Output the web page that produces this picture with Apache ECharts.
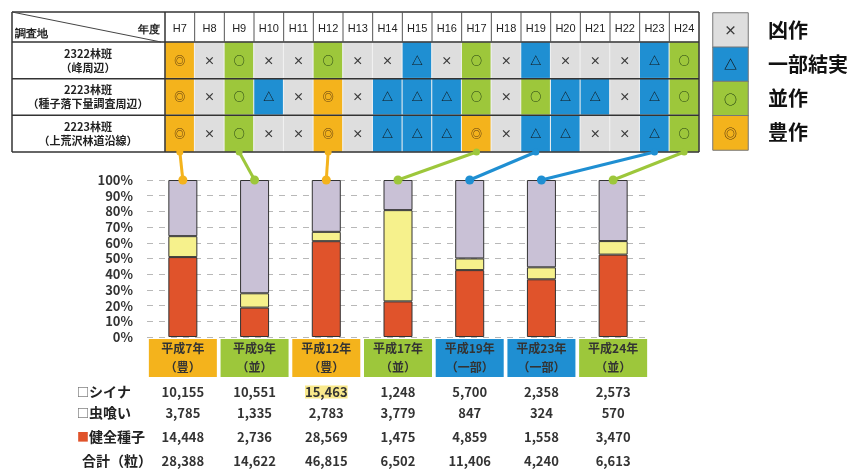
<!DOCTYPE html>
<html><head><meta charset="utf-8">
<script src="https://cdn.jsdelivr.net/npm/echarts@6/dist/echarts.min.js"></script>
<style>html,body{margin:0;padding:0;background:#fff}#c{width:860px;height:471px}</style>
</head><body><div id="c"></div>
<script>
// ---------- data ----------
const years = ['H7','H8','H9','H10','H11','H12','H13','H14','H15','H16','H17','H18','H19','H20','H21','H22','H23','H24'];
const sites = ['2322林班\n（峰周辺）','2223林班\n（種子落下量調査周辺）','2223林班\n（上荒沢林道沿線）'];
const statusNames = ['凶作','一部結実','並作','豊作'];
const statusSymbols = ['×','△','○','◎'];
// 0 凶作(×) 1 一部結実(△) 2 並作(○) 3 豊作(◎)
const site1 = [3,0,2,0,0,2,0,0,1,0,2,0,1,0,0,0,1,2];
const site2 = [3,0,2,1,0,3,0,1,1,1,2,0,2,1,1,0,1,2];
const site3 = [3,0,2,0,0,3,0,1,1,1,3,0,1,1,0,0,1,2];

const barYears = ['H7','H9','H12','H17','H19','H23','H24'];
const barCats = ['平成7年','平成9年','平成12年','平成17年','平成19年','平成23年','平成24年'];
const barClass = ['豊','並','豊','並','一部','一部','並'];
const shiina   = [10155,10551,15463,1248,5700,2358,2573];
const mushikui = [3785,1335,2783,3779,847,324,570];
const kenzen   = [14448,2736,28569,1475,4859,1558,3470];
const total    = [28388,14622,46815,6502,11406,4240,6613];
const rowNames = ['シイナ','虫喰い','健全種子','合計（粒）'];
const highlightIdx = 2;

// ---------- styles ----------
const FONT = '"Noto Sans CJK JP","Noto Sans",sans-serif';
const statusColors = ['#dedede','#1f8fd2','#9dc73b','#f4b31c'];
const symbolColors = ['#3a3a3a','#111','#1e3a10','#5a3a12'];
const classCode = {'豊':3,'並':2,'一部':1};
const barColors = {kenzen:'#e0532b', mushikui:'#f6f18c', shiina:'#c9c1d6'};
const fmt = n => String(n).replace(/\B(?=(\d{3})+(?!\d))/g, ',');

const T = {left:165, top:42, width:534, height:110};
const L = {left:713, top:13, width:35, height:137};
const G = {left:147, top:180, width:502, height:157};

const pct = arr => arr.map((v,i) => v / total[i] * 100);

const siteRows = [site1, site2, site3];
const hmData = [];
siteRows.forEach((row, r) => row.forEach((s, c) => hmData.push({
  value:[c, r, s],
  itemStyle:{color:statusColors[s]},
  label:{color:symbolColors[s]}
})));
const legData = statusNames.map((n,i) => ({
  value:[0, i, i], itemStyle:{color:statusColors[i]}, label:{color:symbolColors[i]}
}));

const boxRich = {};
[1,2,3].forEach(k => {
  boxRich['b'+k] = {backgroundColor:statusColors[k], width:68, height:19, lineHeight:19,
    align:'center', fontSize:12, fontWeight:'bold', color:'#333', fontFamily:FONT};
});

function numAxis(arr, offset, hl){
  return {type:'category', gridIndex:0, data:barCats, position:'bottom', offset:offset,
    axisLine:{show:false}, axisTick:{show:false}, splitLine:{show:false},
    axisLabel:{interval:0, margin:0, fontSize:13, fontWeight:'bold', color:'#333', fontFamily:FONT,
      lineHeight:16, verticalAlign:'top',
      formatter:(v,i) => (hl && i === highlightIdx) ? '{hl|' + fmt(arr[i]) + '}' : fmt(arr[i]),
      rich:{hl:{backgroundColor:'#f9e98c', fontSize:13, fontWeight:'bold', color:'#333', fontFamily:FONT, lineHeight:16}}}};
}

const chart = echarts.init(document.getElementById('c'), null, {renderer:'canvas'});
const option = {
  animation:false,
  backgroundColor:'#fff',
  textStyle:{fontFamily:FONT},
  grid:[
    {left:G.left, top:G.top, width:G.width, height:G.height},
    {left:T.left, top:T.top, width:T.width, height:T.height},
    {left:L.left, top:L.top, width:L.width, height:L.height}
  ],
  xAxis:[
    {type:'category', gridIndex:0, data:barCats, axisLine:{show:false}, axisTick:{show:false},
     axisLabel:{interval:0, margin:2, formatter:(v,i) => {
        const k = classCode[barClass[i]];
        return '{b'+k+'|'+v+'}\n{b'+k+'|（'+barClass[i]+'）}';
      }, rich:boxRich}},
    numAxis(shiina, 47, true),
    numAxis(mushikui, 68, false),
    numAxis(kenzen, 92, false),
    numAxis(total, 116, false),
    {type:'category', gridIndex:1, data:years, position:'top', axisLine:{show:false}, axisTick:{show:false},
     splitLine:{show:false},
     axisLabel:{interval:0, margin:8, fontSize:11, color:'#222', fontFamily:'"Liberation Sans",Arial,sans-serif'}},
    {type:'category', gridIndex:2, data:[''], show:false}
  ],
  yAxis:[
    {type:'value', gridIndex:0, min:0, max:100, interval:10,
     axisLine:{show:false}, axisTick:{show:false},
     axisLabel:{formatter:'{value}%', margin:14, fontSize:13, fontWeight:'bold', color:'#333', fontFamily:FONT},
     splitLine:{lineStyle:{color:'#b8b8b8', type:[6,6], width:1}}},
    {type:'category', gridIndex:1, data:sites, inverse:true, axisLine:{show:false}, axisTick:{show:false},
     splitLine:{show:false},
     axisLabel:{margin:77, align:'center', fontSize:11, fontWeight:'bold', color:'#222', lineHeight:14, fontFamily:FONT}},
    {type:'category', gridIndex:2, data:statusNames, inverse:true, position:'right',
     axisLine:{show:false}, axisTick:{show:false}, splitLine:{show:false},
     axisLabel:{margin:20, align:'left', fontSize:20, fontWeight:'bold', color:'#111', fontFamily:FONT}}
  ],
  series:[
    {name:'健全種子', type:'bar', stack:'s', xAxisIndex:0, yAxisIndex:0, barWidth:29, data:pct(kenzen),
     itemStyle:{color:barColors.kenzen, borderColor:'#333', borderWidth:1}},
    {name:'虫喰い', type:'bar', stack:'s', xAxisIndex:0, yAxisIndex:0, barWidth:29, data:pct(mushikui),
     itemStyle:{color:barColors.mushikui, borderColor:'#333', borderWidth:1}},
    {name:'シイナ', type:'bar', stack:'s', xAxisIndex:0, yAxisIndex:0, barWidth:29, data:pct(shiina),
     itemStyle:{color:barColors.shiina, borderColor:'#333', borderWidth:1}},
    {type:'heatmap', xAxisIndex:5, yAxisIndex:1, data:hmData,
     itemStyle:{borderColor:'#f2f2f2', borderWidth:1},
     label:{show:true, fontSize:11, fontWeight:'bold', formatter:p => statusSymbols[p.value[2]]}},
    {type:'heatmap', xAxisIndex:6, yAxisIndex:2, data:legData,
     itemStyle:{borderColor:'#777', borderWidth:1},
     label:{show:true, fontSize:13, fontWeight:'bold', formatter:p => statusSymbols[p.value[2]]}}
  ]
};
chart.setOption(option);

// ---------- decorations: table frame, connectors, row labels ----------
const g = [];
const line = (x1,y1,x2,y2,color,w) => g.push({type:'line', z:100, shape:{x1,y1,x2,y2}, style:{stroke:color, lineWidth:w}});
const x0 = 12, y0 = 12, xR = T.left + T.width, yB = T.top + T.height;
const cw = T.width / years.length, rh = T.height / sites.length;
line(x0,y0,xR,y0,'#333',1.5); line(x0,yB,xR,yB,'#333',1.5);
line(x0,y0,x0,yB,'#333',1.5); line(xR,y0,xR,yB,'#333',1.5);
line(x0,T.top,xR,T.top,'#333',1.5);
for (let r=1;r<sites.length;r++) line(x0,T.top+r*rh,xR,T.top+r*rh,'#333',1.5);
line(T.left,y0,T.left,yB,'#333',1.5);
for (let c=1;c<years.length;c++) line(T.left+c*cw,y0,T.left+c*cw,T.top,'#555',1);
line(x0,y0,T.left-4,T.top,'#444',1);
g.push({type:'text', z:100, style:{text:'調査地', x:15, y:34, fontSize:11, fontWeight:'bold', fill:'#222', font:'bold 11px '+FONT, textVerticalAlign:'middle'}});
g.push({type:'text', z:100, style:{text:'年度', x:160, y:30, textAlign:'right', fontSize:11, fontWeight:'bold', fill:'#222', font:'bold 11px '+FONT, textVerticalAlign:'middle'}});

// connectors
barYears.forEach((y,i) => {
  const xi = years.indexOf(y);
  const p1 = chart.convertToPixel({seriesIndex:3}, [xi, sites.length-1]);
  const p2 = chart.convertToPixel({seriesIndex:0}, [i, 100]);
  const col = statusColors[classCode[barClass[i]]];
  const ty = p1[1] + rh/2;
  line(p1[0], ty, p2[0], p2[1], col, 3);
  g.push({type:'circle', z:101, shape:{cx:p1[0], cy:ty, r:3.5}, style:{fill:col}});
  g.push({type:'circle', z:101, shape:{cx:p2[0], cy:p2[1], r:4.5}, style:{fill:col}});
});

// bottom table row labels
const rowY = [392, 413, 437, 461];
const rowMarks = ['□', '□', '■', ''];
rowNames.forEach((n,i) => {
  const mark = rowMarks[i];
  g.push({type:'text', z:100, style:{
    x: i === 3 ? 82 : 77, y: rowY[i], textVerticalAlign:'middle',
    text: mark ? '{m' + i + '|' + mark + '}{t|' + n + '}' : '{t|' + n + '}',
    rich:{
      m0:{fontSize:12, fill:'#444', fontFamily:FONT},
      m1:{fontSize:12, fill:'#444', fontFamily:FONT},
      m2:{fontSize:12, fill:barColors.kenzen, fontFamily:FONT},
      t:{fontSize:14, fontWeight:'bold', fill:'#222', fontFamily:FONT}
    }}});
});
chart.setOption({graphic:{elements:g}});
</script></body></html>
